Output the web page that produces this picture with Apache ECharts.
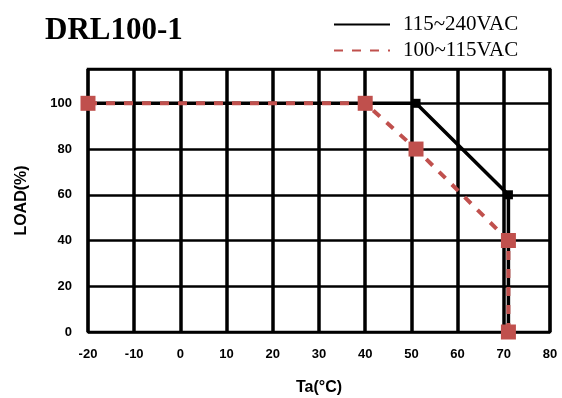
<!DOCTYPE html>
<html>
<head>
<meta charset="utf-8">
<script src="https://cdn.jsdelivr.net/npm/echarts@6/dist/echarts.min.js"></script>
<style>
  html, body { margin: 0; padding: 0; background: #fff; }
  #chart { width: 562px; height: 398px; }
</style>
</head>
<body>
<div id="chart"></div>
<script>
// derating curves, [Ta, load %]
const highLineName = '115~240VAC';
const lowLineName = '100~115VAC';
const highLine = [[-20, 100], [51, 100], [71, 60], [71, 0]];
const lowLine = [[-20, 100], [40, 100], [51, 80], [71, 40], [71, 0]];
const xRange = [-20, 80];
const yRange = [0, 115];

const chart = echarts.init(document.getElementById('chart'));

const tickFont = {
    color: '#000',
    fontFamily: 'Liberation Sans, Arial',
    fontWeight: 'bold',
    fontSize: 13
};
const nameFont = {
    color: '#000',
    fontFamily: 'Liberation Sans, Arial',
    fontWeight: 'bold',
    fontSize: 16
};

chart.setOption({
    animation: false,
    title: {
        text: 'DRL100-1',
        left: 40,
        top: 10,
        textStyle: {
            fontFamily: 'Liberation Serif, Times New Roman',
            fontWeight: 'bold',
            fontSize: 31,
            color: '#000'
        }
    },
    legend: {
        orient: 'vertical',
        left: 328,
        top: 9,
        itemWidth: 56,
        itemHeight: 14,
        itemGap: 5,
        itemStyle: { opacity: 0 },
        data: [highLineName, lowLineName],
        textStyle: {
            fontFamily: 'Liberation Serif, Times New Roman',
            fontSize: 21,
            color: '#000',
            padding: [0, 0, 0, 8]
        }
    },
    grid: {
        left: 88,
        right: 12,
        top: 69,
        bottom: 66,
        outerBoundsMode: 'none',
        show: true,
        borderColor: '#000',
        borderWidth: 2.5
    },
    xAxis: {
        type: 'value',
        min: xRange[0],
        max: xRange[1],
        interval: 10,
        name: 'Ta(°C)',
        nameLocation: 'middle',
        nameGap: 48,
        nameTextStyle: nameFont,
        axisLine: { show: false },
        axisTick: { show: false },
        axisLabel: Object.assign({ margin: 16 }, tickFont),
        splitLine: { lineStyle: { color: '#000', width: 3.5 } }
    },
    yAxis: {
        type: 'value',
        min: yRange[0],
        max: yRange[1],
        interval: 20,
        name: 'LOAD(%)',
        nameLocation: 'middle',
        nameGap: 58,
        nameTextStyle: nameFont,
        axisLine: { show: false },
        axisTick: { show: false },
        axisLabel: Object.assign({
            margin: 16,
            formatter: function (v) { return v > 100 ? '' : v; }
        }, tickFont),
        splitLine: { lineStyle: { color: '#000', width: 2.5 } }
    },
    series: [{
        name: highLineName,
        type: 'line',
        data: highLine,
        symbol: 'rect',
        symbolSize: 9,
        z: 2,
        itemStyle: { color: '#000' },
        lineStyle: { color: '#000', width: 3.5 }
    }, {
        name: lowLineName,
        type: 'line',
        data: lowLine,
        symbol: 'rect',
        symbolSize: 15,
        z: 3,
        itemStyle: { color: '#c0504d' },
        lineStyle: { color: '#c0504d', width: 4, type: [9, 9] }
    }]
});
</script>
</body>
</html>
